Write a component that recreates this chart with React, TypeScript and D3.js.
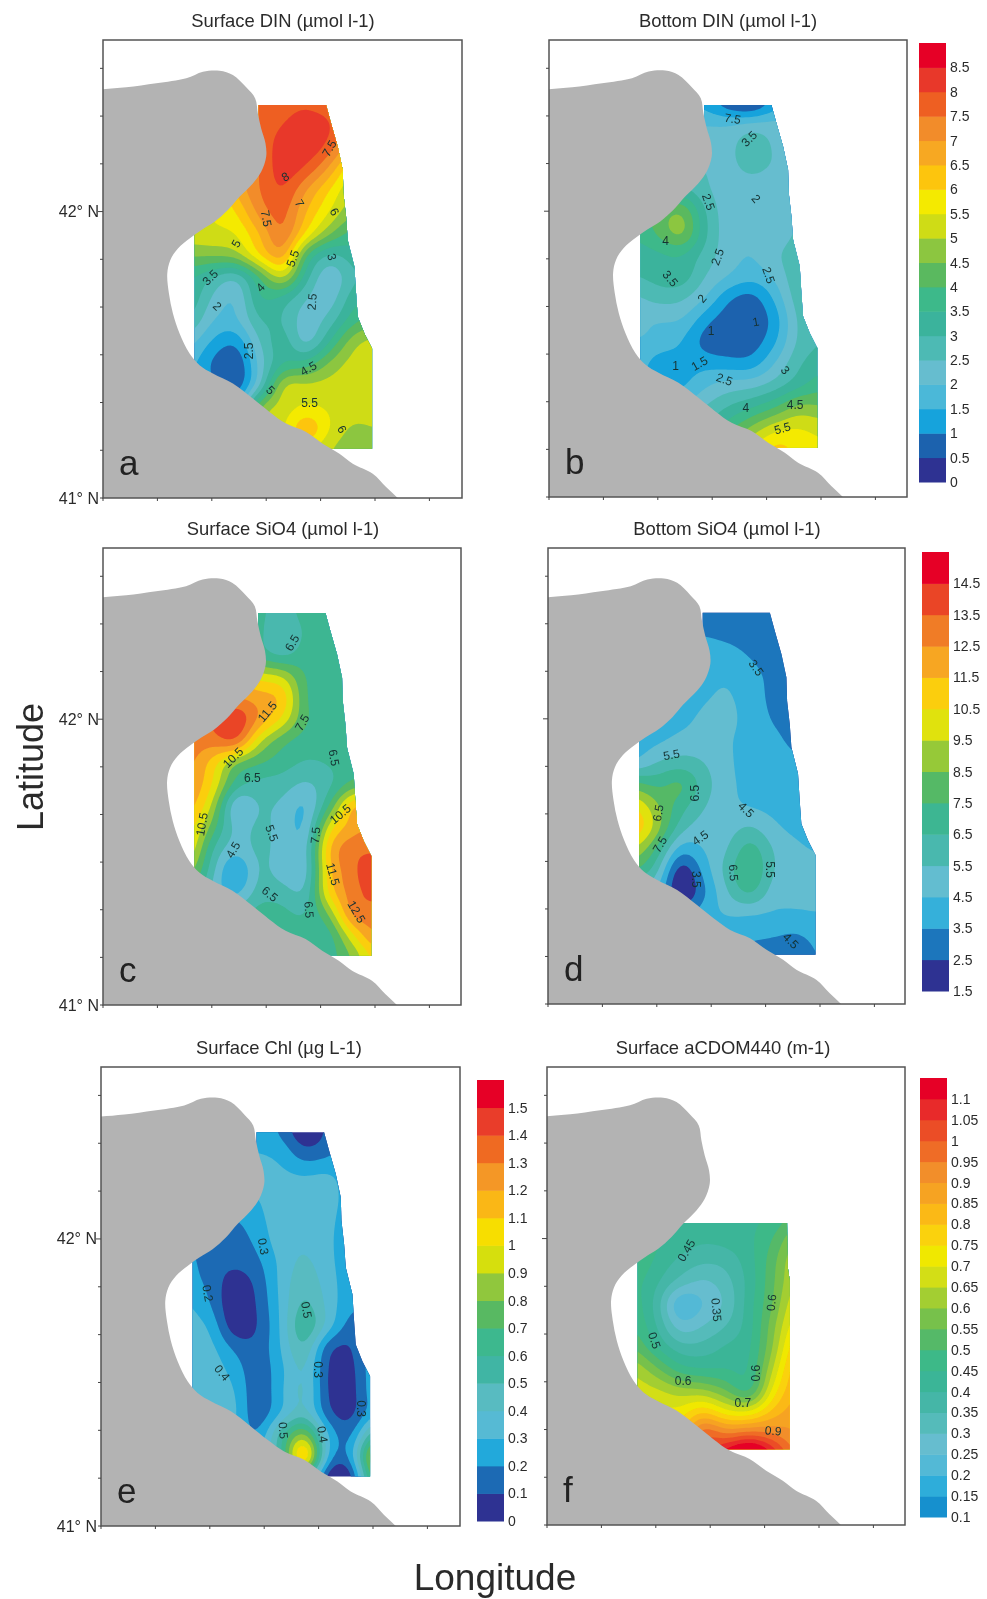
import React from "react";
import * as d3 from "d3";

const GRID_X = [300, 370, 440, 510, 580, 650, 720, 790, 860];
const GRID_Y = [310, 375, 440, 505, 570, 635, 700, 765, 830, 895, 960, 1025, 1090, 1155, 1220, 1285, 1350];

const SURFACE_DIN = [
  [7.5,7.5,7.5,7.6,7.8,7.9,7.6,7,7],
  [7.5,7.5,7.5,7.7,8.0,8.3,8.1,7,7],
  [7,7,7.3,7.6,8.3,8.4,7.8,6.5,6],
  [6,6,6.8,7.5,8.3,7.9,6.9,5.5,5],
  [5.5,5.5,6.6,7.5,8.0,7.0,6.0,5.0,5],
  [5.4,5.5,6.0,7.2,7.7,6.5,5.5,4.6,4.5],
  [5.3,5.4,5.5,6.5,7.5,5.9,4.6,3.8,4],
  [4.6,4.6,4.8,6.0,6.8,4.0,2.9,3.3,3.5],
  [3.6,3.0,2.6,4.0,5.2,3.2,2.1,2.9,3.2],
  [3.4,2.4,2.0,3.5,3.3,2.5,2.2,3.3,3.6],
  [3.0,2.0,1.9,3.0,3.0,2.2,2.7,3.8,4.2],
  [2.2,1.4,1.1,2.5,3.3,2.3,3.5,4.8,5.2],
  [1.7,0.9,0.5,2.2,3.5,3.7,4.6,5.2,5.3],
  [1.6,1.1,0.6,2.4,5.0,5.1,5.2,5.3,5.3],
  [1.5,1.5,1.5,4.5,5.2,5.55,5.4,5.3,5.3],
  [3,3,3,5,5.4,6.5,5.5,4.9,5],
  [5,5,5,5.2,5.4,5.6,5,4.7,4.8],
];
const BOTTOM_DIN = [
  [1.5,1.5,1.5,1.3,0.6,0.3,1.2,1.5,1.5],
  [2,2,2,2.0,2.0,2.2,2.2,2.2,2.2],
  [2.3,2.3,2.3,2.3,2.3,2.9,2.4,2.3,2.3],
  [2.5,2.5,2.5,2.5,2.3,2.7,2.4,2.5,2.5],
  [3,3,3.1,2.6,2.2,2.1,2.1,2.6,2.6],
  [3.6,4.1,4.5,3.0,2.2,2.1,2.0,2.5,2.6],
  [3.6,4.1,4.7,3.1,2.2,2.0,2.1,2.6,2.7],
  [3.2,3.4,3.5,2.8,2.2,2.0,2.4,2.8,2.9],
  [3.0,3.2,3.3,2.5,2.0,1.7,2.1,2.9,3],
  [2.4,2.7,2.6,2.0,1.1,0.8,1.6,2.8,3],
  [2.1,2.0,2.0,1.2,0.7,0.6,1.2,2.6,3],
  [2.0,1.9,1.5,0.8,0.6,0.7,1.4,2.6,3],
  [1.9,1.2,1.3,1.3,1.2,1.2,2.0,2.9,3.3],
  [1.5,1.4,1.4,1.9,2.2,2.3,2.7,3.3,3.8],
  [2,2,2,2.5,3,3.4,3.9,4.6,4.5],
  [3,3,3,3,3.8,4.6,5.3,5.5,5.3],
  [3.5,3.5,3.5,3.5,4.5,5.5,6.2,5.9,5.6],
];
const SURFACE_SIO4 = [
  [7,7,7,6.8,6.0,7.0,7,7,7],
  [7,7,7,6.8,5.5,6.7,7,7,7],
  [9,9,8,7.0,6.2,7,7,7,7],
  [11,11,11,10,9.5,7.4,7,7,7],
  [12,12,12.5,12,11.3,7.5,7,7,7],
  [13,13.5,14.5,12.3,10.3,7.6,7,7,7],
  [13,13,13.5,9.7,7.8,7,7,7,7],
  [12.8,11,8.5,7.6,7.0,6.4,6.6,7,7],
  [12.5,10.5,7,6.2,6,5.3,6.2,7.8,8],
  [12,9.3,4.5,5.6,5.3,4.3,7.5,11.5,12],
  [11,8,5.1,5.8,5.1,4.5,10,12,12.5],
  [10.5,6.5,4.9,5.8,5.1,5.0,11.5,13.2,13.3],
  [9,5.8,3.2,5.7,5.0,4.9,11.2,13.2,14.3],
  [8,5.2,4.2,6,6,5.6,10.8,13,13.9],
  [7,6,6,7,6.8,6.5,8.5,12.8,13],
  [7,7,7,7,6.8,6.8,7,10.2,12.6],
  [7,7,7,7,6.8,6.8,7,8.5,10.8],
];
const BOTTOM_SIO4 = [
  [3,3,3,3,3,3,3,3,3],
  [3.5,3.5,3.5,3.4,3.2,3,2.9,3,3],
  [4,4,4,4,3.9,3.4,3,3,3],
  [4,4,4,4.2,4.4,3.9,3.2,3,3],
  [4,4,4,4.4,4.6,4.1,3.2,3,3],
  [4,4,4.2,4.7,4.7,4.2,3.4,3,3],
  [4,4.3,4.8,4.9,4.6,4.2,3.8,3.2,3.2],
  [4.5,5.5,5.9,5.5,4.7,4.1,4,3.7,3.7],
  [7.8,7.2,7.8,6,4.8,4.2,4.1,4,4],
  [10.5,8.6,7,5.6,4.8,4.4,4.2,4,4],
  [11.5,9,6,5,5,5.6,4.7,4.2,4],
  [9.5,7.3,4,4.6,5.4,7,5.4,4.7,4.4],
  [7.6,5.8,1.8,3.9,5.9,7.6,5.5,4.8,4.8],
  [5,4.5,1.3,3.3,5.4,6.8,5,4.8,4.8],
  [4,4,3.2,4,4.6,4.6,4.4,4.4,4.5],
  [4,4,4,4.1,3.9,3.7,3.6,3.4,3.9],
  [4,4,4,4,3.6,3.2,2.9,2.8,3.6],
];
const SURFACE_CHL = [
  [.25,.25,.25,.25,.18,0,.12,.25,.25],
  [.3,.3,.3,.3,.27,.13,.17,.25,.25],
  [.33,.33,.33,.33,.32,.29,.31,.25,.25],
  [.3,.3,.3,.3,.36,.37,.35,.25,.25],
  [.2,.2,.2,.27,.36,.37,.33,.25,.25],
  [.2,.15,.15,.23,.36,.38,.32,.25,.25],
  [.23,.15,.13,.18,.33,.42,.33,.24,.24],
  [.24,.17,.04,.13,.33,.47,.35,.24,.24],
  [.31,.2,.01,.11,.32,.53,.37,.22,.22],
  [.35,.28,.03,.1,.31,.6,.36,.15,.2],
  [.38,.33,.18,.13,.3,.5,.13,.09,.28],
  [.4,.36,.26,.13,.27,.42,.09,.06,.28],
  [.38,.36,.31,.12,.28,.43,.09,.05,.28],
  [.37,.37,.33,.12,.3,.45,.13,.06,.28],
  [.3,.3,.3,.2,.55,.85,.3,.17,.6],
  [.3,.3,.3,.3,.55,1.2,.28,.22,1.0],
  [.3,.3,.3,.3,.5,.6,.02,.02,.8],
];
const SURFACE_ACDOM = [
  [.43,.43,.43,.43,.43,.43,.43,.43,.43],
  [.43,.43,.43,.43,.43,.43,.43,.43,.43],
  [.44,.44,.44,.44,.44,.44,.44,.47,.47],
  [.45,.45,.45,.44,.44,.44,.45,.5,.55],
  [.47,.47,.45,.44,.44,.44,.46,.52,.55],
  [.5,.46,.43,.41,.42,.44,.5,.6,.62],
  [.5,.44,.39,.36,.37,.43,.53,.65,.67],
  [.47,.41,.33,.29,.33,.42,.54,.66,.7],
  [.48,.38,.2,.25,.31,.43,.55,.7,.72],
  [.5,.4,.27,.3,.35,.43,.58,.74,.76],
  [.55,.45,.37,.37,.41,.44,.6,.8,.8],
  [.64,.56,.47,.45,.45,.45,.65,.84,.85],
  [.68,.66,.62,.61,.55,.48,.72,.85,.85],
  [.7,.72,.72,.8,.72,.71,.82,.88,.88],
  [.8,.8,.8,1.0,.95,.98,.95,.9,.93],
  [1,1,1,1,1.15,1.25,1.1,.95,.95],
  [1,1,1,1,1.1,1.1,1,1,1],
];

const COLOR_STOPS = ["#2e3192","#1e62ae","#13a3dc","#4cb8d8","#66bdcf","#4ebab4","#3bb39c","#3cb98a","#5ab95f","#8cc63f","#cfdc14","#f4ea00","#fdc50c","#f7a823","#f28c2b","#ee5f22","#e8392a","#e60028"];
const LAND = "#b3b3b3";

const COAST: [number, number][] = [[-20,272],[40,268],[110,262],[200,250],[290,235],[340,215],[390,212],[430,225],[470,262],[497,295],[505,340],[515,385],[528,430],[530,470],[515,515],[490,550],[450,590],[415,630],[375,665],[335,690],[300,715],[265,745],[242,780],[233,820],[238,880],[250,940],[270,1000],[300,1060],[330,1095],[370,1120],[430,1150],[490,1195],[540,1235],[590,1270],[650,1295],[700,1330],[750,1360],[790,1390],[850,1420],[890,1460],[925,1493],[960,1530]];
const COAST_CLOSE: [number, number][] = [[-20,1530]];
const REGION_MAIN: [number, number][] = [[507,315],[710,315],[725,370],[745,440],[760,510],[762,580],[770,650],[775,720],[795,800],[800,880],[805,950],[825,1000],[848,1045],[848,1345],[650,1345],[500,1300],[315,1200],[315,400],[507,400]];
const REGION_AC: [number, number][] = [[400,588],[763,588],[765,720],[771,760],[771,1266],[560,1266],[400,1200],[313,1200],[313,700],[400,600]];

type Label = [string, number, number, number];
const LABELS_A: Label[] = [["7.5",720,445,-60],["8",588,530,-30],["7",630,610,60],["7.5",530,655,80],["6",735,635,60],["5",440,730,-60],["5.5",610,775,-70],["3",727,770,75],["3.5",362,832,-45],["4",513,862,-45],["2",383,918,45],["2.5",668,905,-85],["2.5",477,1052,-90],["4.5",657,1105,-30],["5",543,1170,45],["5.5",660,1207,0],["6",757,1287,60]];
const LABELS_B: Label[] = [["7.5",593,357,10],["3.5",643,417,-45],["2.5",520,607,70],["2",663,597,50],["4",391,724,0],["2.5",548,772,-70],["2.5",701,827,70],["3.5",405,837,50],["2",501,897,-50],["1",663,967,-10],["1",528,994,0],["1",421,1099,0],["1.5",493,1092,-30],["2.5",568,1140,20],["3",751,1112,50],["4",633,1227,0],["4.5",781,1217,0],["5.5",743,1287,-15]];
const LABELS_C: Label[] = [["6.5",610,405,-60],["11.5",535,612,-50],["7.5",640,645,-60],["10.5",432,750,-45],["6.5",735,750,80],["6.5",490,810,0],["10.5",755,920,-40],["10.5",338,950,-80],["5.5",548,977,70],["7.5",680,983,-85],["4.5",432,1027,-60],["11.5",732,1100,75],["6.5",542,1160,40],["12.5",803,1213,60],["6.5",660,1207,85]];
const LABELS_D: Label[] = [["3.5",668,481,55],["5.5",413,743,-10],["6.5",483,858,-90],["6.5",373,918,-80],["7.5",378,1013,-60],["4.5",638,908,45],["4.5",500,993,-35],["6.5",600,1098,85],["5.5",710,1088,90],["3.5",488,1118,90],["4.5",773,1303,45]];
const LABELS_E: Label[] = [["0.3",527,657,80],["0.2",360,797,80],["0.5",657,847,80],["0.4",403,1035,50],["0.3",693,1025,90],["0.3",820,1142,90],["0.5",587,1207,85],["0.4",705,1219,80]];
const LABELS_F: Label[] = [["0.45",460,670,-60],["0.35",550,848,85],["0.6",716,826,-85],["0.5",363,940,70],["0.6",670,1038,-90],["0.6",450,1060,0],["0.7",630,1128,0],["0.9",721,1211,5]];

const LEVELS_DIN = d3.range(0, 9.01, 0.5);
const LEVELS_SIO4 = d3.range(1.5, 15.51, 1);
const LEVELS_CHL = d3.range(0, 1.601, 0.1);
const LEVELS_ACDOM = d3.range(0.1, 1.151, 0.05);

const TICK_DIN = d3.range(0, 8.51, 0.5).map(String);
const TICK_SIO4 = d3.range(1.5, 14.51, 1).map(String);
const TICK_CHL = d3.range(0, 15).map((i) => String(+(i * 0.1).toFixed(1))).concat(["1.5"]);
const TICK_ACDOM = d3.range(0, 21).map((i) => String(+(0.1 + i * 0.05).toFixed(2)));

const colorAt = d3.scaleLinear<string>().domain(COLOR_STOPS.map((_, i) => i / (COLOR_STOPS.length - 1))).range(COLOR_STOPS).interpolate(d3.interpolateRgb);

function bandColors(levels: number[], start = 0) {
  const n = levels.length - 1;
  return d3.range(n).map((i) => colorAt(start + (1 - start) * (i / Math.max(1, n - 1))));
}

function cubic(a: number, b: number, c: number, d: number, t: number) {
  return b + 0.5 * t * (c - a + t * (2 * a - 5 * b + 4 * c - d + t * (3 * (b - c) + d - a)));
}
const UP = 8;
function upsample(rows: number[][]) {
  const ny = rows.length, nx = rows[0].length;
  const W = (nx - 1) * UP + 1, H = (ny - 1) * UP + 1;
  const out = new Float64Array(W * H);
  const at = (j: number, i: number) => rows[Math.max(0, Math.min(ny - 1, j))][Math.max(0, Math.min(nx - 1, i))];
  for (let y = 0; y < H; y++) {
    const j = Math.floor(y / UP), ty = y / UP - j;
    for (let x = 0; x < W; x++) {
      const i = Math.floor(x / UP), tx = x / UP - i;
      const col = [-1, 0, 1, 2].map((dj) => cubic(at(j + dj, i - 1), at(j + dj, i), at(j + dj, i + 1), at(j + dj, i + 2), tx));
      out[y * W + x] = cubic(col[0], col[1], col[2], col[3], ty);
    }
  }
  d3.blur2({ data: out, width: W, height: H }, 1.5);
  return { W, H, out };
}

type PanelDef = {
  id: string; title: string; titleX: number; titleY: number; letter: string;
  x0: number; x1: number; y0: number; y1: number;
  rows: number[][]; levels: number[]; start: number; region: [number, number][]; labels: Label[]; latLabels: boolean;
};

const PANELS: PanelDef[] = [
  { id: "a", title: "Surface DIN (µmol l-1)", titleX: 283, titleY: 27, letter: "a", x0: 103, x1: 462, y0: 40, y1: 498, rows: SURFACE_DIN, levels: LEVELS_DIN, start: 0, region: REGION_MAIN, labels: LABELS_A, latLabels: true },
  { id: "b", title: "Bottom DIN (µmol l-1)", titleX: 728, titleY: 27, letter: "b", x0: 549, x1: 907, y0: 40, y1: 497, rows: BOTTOM_DIN, levels: LEVELS_DIN, start: 0, region: REGION_MAIN, labels: LABELS_B, latLabels: false },
  { id: "c", title: "Surface SiO4 (µmol l-1)", titleX: 283, titleY: 535, letter: "c", x0: 103, x1: 461, y0: 548, y1: 1005, rows: SURFACE_SIO4, levels: LEVELS_SIO4, start: 0, region: REGION_MAIN, labels: LABELS_C, latLabels: true },
  { id: "d", title: "Bottom SiO4 (µmol l-1)", titleX: 727, titleY: 535, letter: "d", x0: 548, x1: 905, y0: 548, y1: 1004, rows: BOTTOM_SIO4, levels: LEVELS_SIO4, start: 0, region: REGION_MAIN, labels: LABELS_D, latLabels: false },
  { id: "e", title: "Surface Chl (µg L-1)", titleX: 279, titleY: 1054, letter: "e", x0: 101, x1: 460, y0: 1067, y1: 1526, rows: SURFACE_CHL, levels: LEVELS_CHL, start: 0, region: REGION_MAIN, labels: LABELS_E, latLabels: true },
  { id: "f", title: "Surface aCDOM440 (m-1)", titleX: 723, titleY: 1054, letter: "f", x0: 547, x1: 905, y0: 1067, y1: 1525, rows: SURFACE_ACDOM, levels: LEVELS_ACDOM, start: 0.1, region: REGION_AC, labels: LABELS_F, latLabels: false },
];

const LEGENDS = [
  { x: 919, y0: 43, y1: 482, levels: LEVELS_DIN, ticks: TICK_DIN, start: 0 },
  { x: 922, y0: 552, y1: 991, levels: LEVELS_SIO4, ticks: TICK_SIO4, start: 0 },
  { x: 477, y0: 1080, y1: 1521, levels: LEVELS_CHL, ticks: TICK_CHL, start: 0 },
  { x: 920, y0: 1078, y1: 1517, levels: LEVELS_ACDOM, ticks: TICK_ACDOM, start: 0.1 },
];

const FONT = "'Liberation Sans', Arial, sans-serif";
const INK = "#2b2b2b";

function Panel({ p }: { p: PanelDef }) {
  const mx = d3.scaleLinear().domain([40, 1118]).range([p.x0, p.x1]);
  const my = d3.scaleLinear().domain([120, 1493]).range([p.y0, p.y1]);
  const lat = d3.scaleLinear().domain([41, 42.5]).range([my(1493), my(205)]);
  const lonPx = d3.scaleLinear().domain([0, 1]).range([p.x0, p.x0 + 54.4]);
  const { W, H, out } = upsample(p.rows);
  const colors = bandColors(p.levels, p.start);
  const minV = p.levels[0] + 1e-6;
  const values = Array.from(out, (v: number) => Math.max(v, minV));
  const contours = d3.contours().size([W, H]).smooth(true).thresholds(p.levels.slice(0, -1))(values);
  const dx = (GRID_X[1] - GRID_X[0]) / UP, dy = (GRID_Y[1] - GRID_Y[0]) / UP;
  const path = d3.geoPath(d3.geoTransform({
    point(x: number, y: number) {
      (this as any).stream.point(mx(GRID_X[0] + (x - 0.5) * dx), my(GRID_Y[0] + (y - 0.5) * dy));
    },
  }));
  const line = d3.line<[number, number]>().x((d) => mx(d[0])).y((d) => my(d[1]));
  const coastLine = d3.line<[number, number]>().x((d) => mx(d[0])).y((d) => my(d[1])).curve(d3.curveCatmullRom.alpha(0.5));
  const latTicks = d3.range(0, 10).map((i) => 41 + i / 6);
  const lonTicks = d3.range(0, 7);
  const landD = coastLine(COAST) + COAST_CLOSE.map((d) => `L${mx(d[0])},${my(d[1])}`).join("") + "Z";
  return (
    <g>
      <clipPath id={`reg-${p.id}`}><path d={line(p.region) + "Z"} /></clipPath>
      <clipPath id={`frm-${p.id}`}><rect x={p.x0} y={p.y0} width={p.x1 - p.x0} height={p.y1 - p.y0} /></clipPath>
      <g clipPath={`url(#reg-${p.id})`}>
        {contours.map((c: any, i: number) => <path key={i} d={path(c) || ""} fill={colors[i]} />)}
      </g>
      <path d={landD} fill={LAND} clipPath={`url(#frm-${p.id})`} />
      {p.labels.map(([t, x, y, r], i) => (
        <text key={i} transform={`translate(${mx(x)},${my(y)}) rotate(${r})`} textAnchor="middle" dominantBaseline="central" fontFamily={FONT} fontSize={12} fill="#163232">{t}</text>
      ))}
      <text x={mx(88)} y={my(1425)} fontFamily={FONT} fontSize={35} fill="#222">{p.letter}</text>
      <rect x={p.x0} y={p.y0} width={p.x1 - p.x0} height={p.y1 - p.y0} fill="none" stroke="#555" strokeWidth={1.5} />
      {latTicks.map((l, i) => <line key={i} x1={p.x0 - (Math.abs(l - 42) < 0.01 ? 5 : 3)} x2={p.x0} y1={lat(l)} y2={lat(l)} stroke="#444" strokeWidth={1} />)}
      {lonTicks.map((l) => <line key={l} x1={lonPx(l)} x2={lonPx(l)} y1={p.y1} y2={p.y1 + 3} stroke="#444" strokeWidth={1} />)}
      {p.latLabels && [41, 42].map((l) => (
        <text key={l} x={p.x0 - 4} y={lat(l)} textAnchor="end" dominantBaseline="central" fontFamily={FONT} fontSize={16} fill={INK}>{`${l}° N`}</text>
      ))}
      <text x={p.titleX} y={p.titleY} textAnchor="middle" fontFamily={FONT} fontSize={18.4} fill={INK}>{p.title}</text>
    </g>
  );
}

function Legend({ l }: { l: (typeof LEGENDS)[number] }) {
  const n = l.levels.length - 1;
  const y = d3.scaleLinear().domain([l.levels[0], l.levels[n]]).range([l.y1, l.y0]);
  const colors = bandColors(l.levels, l.start);
  return (
    <g>
      {d3.range(n).map((i) => (
        <rect key={i} x={l.x} width={27} y={y(l.levels[i + 1])} height={y(l.levels[i]) - y(l.levels[i + 1]) + 0.5} fill={colors[i]} />
      ))}
      {l.ticks.map((t, i) => (
        <text key={i} x={l.x + 31} y={y(l.levels[i])} dominantBaseline="central" fontFamily={FONT} fontSize={14} fill={INK}>{t}</text>
      ))}
    </g>
  );
}

export default function App() {
  return (
    <svg width={987} height={1599} style={{ position: "absolute", left: 0, top: 0, background: "#fff" }}>
      <defs><filter id="soft"><feGaussianBlur stdDeviation={0.7} /></filter></defs>
      <g filter="url(#soft)">
        {PANELS.map((p) => <Panel key={p.id} p={p} />)}
        {LEGENDS.map((l, i) => <Legend key={i} l={l} />)}
        <text transform="translate(43,767) rotate(-90)" textAnchor="middle" fontFamily={FONT} fontSize={36} fill={INK}>Latitude</text>
        <text x={495} y={1590} textAnchor="middle" fontFamily={FONT} fontSize={37} fill={INK}>Longitude</text>
      </g>
    </svg>
  );
}
